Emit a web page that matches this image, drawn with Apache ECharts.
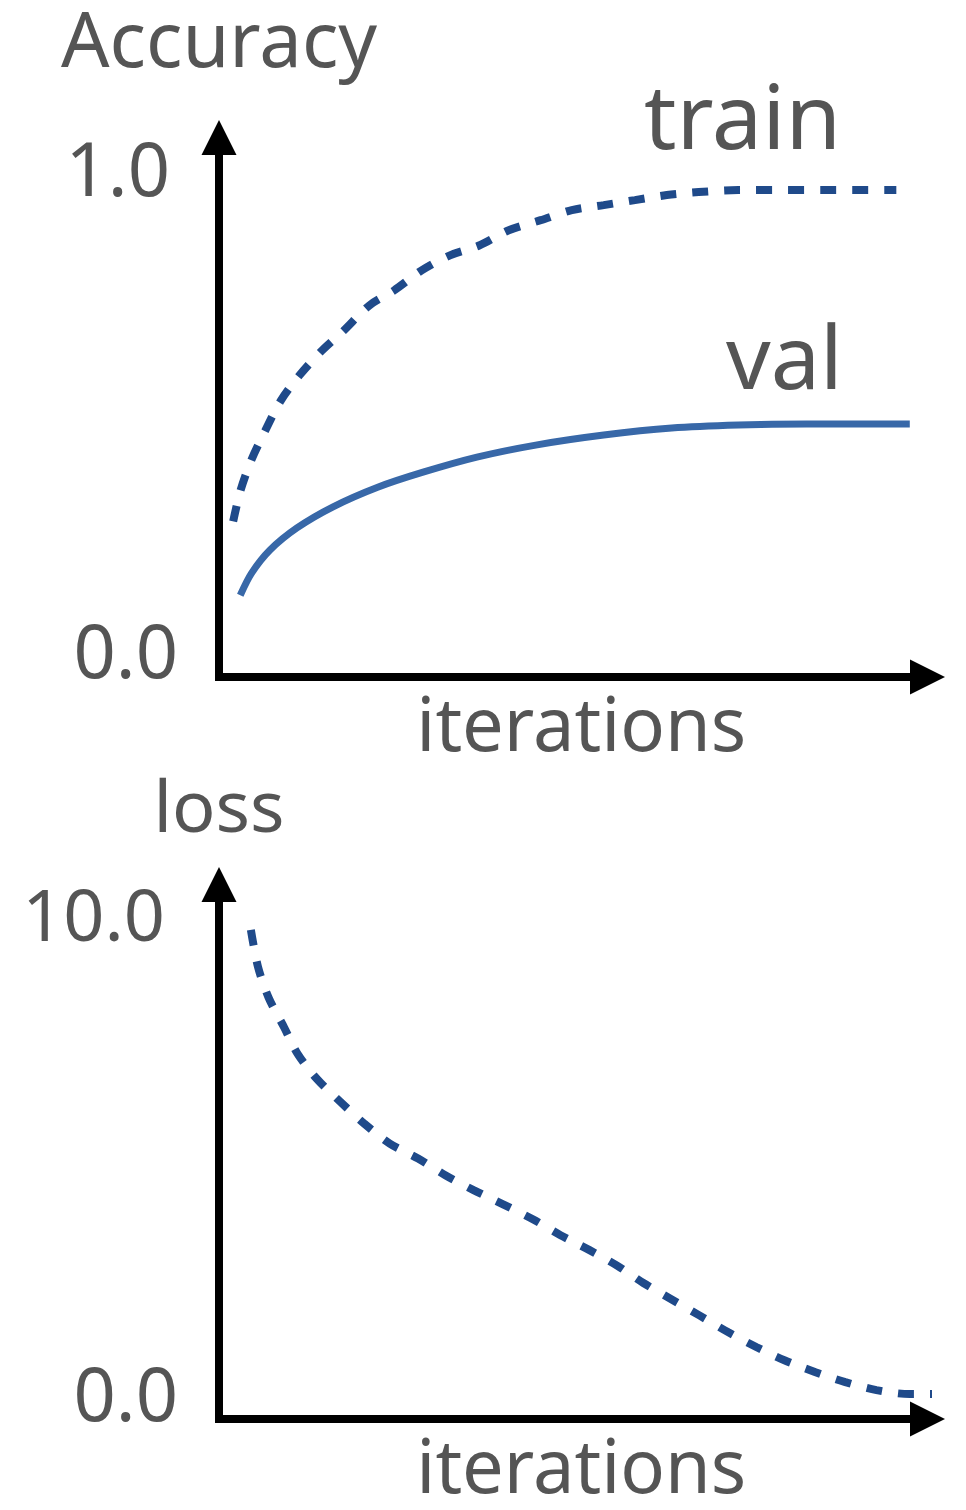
<!DOCTYPE html>
<html>
<head>
<meta charset="utf-8">
<script src="https://cdn.jsdelivr.net/npm/echarts@6/dist/echarts.min.js"></script>
<style>
html,body{margin:0;padding:0;background:#fff;}
#chart{width:966px;height:1510px;}
</style>
</head>
<body>
<div id="chart"></div>
<script>
// ---- data ----
const trainIter = [2.0, 3.0, 4.5, 6.5, 8.7, 11.3, 14.5, 17.6, 21.2, 24.7, 28.6, 32.6, 36.8, 40.9, 45.4, 49.8, 54.3, 58.7, 63.2, 67.7, 73.3, 95.6];
const trainAcc  = [0.31, 0.37, 0.43, 0.49, 0.55, 0.60, 0.65, 0.69, 0.74, 0.77, 0.81, 0.84, 0.86, 0.89, 0.91, 0.93, 0.94, 0.95, 0.96, 0.966, 0.97, 0.97];

const valIter = [3.0, 4.6, 7.2, 11.0, 16.1, 22.4, 28.8, 36.4, 44.7, 54.3, 63.9, 73.3, 82.9, 97.5];
const valAcc  = [0.163, 0.207, 0.253, 0.297, 0.339, 0.378, 0.408, 0.438, 0.462, 0.482, 0.496, 0.502, 0.504, 0.504];

const lossIter = [4.5, 5.5, 7.0, 9.2, 11.1, 13.8, 17.1, 20.5, 24.1, 28.1, 32.0, 36.0, 40.1, 44.3, 48.2, 52.3, 56.3, 59.9, 63.9, 67.8, 71.9, 75.9, 79.8, 84.2, 88.4, 92.8, 97.5, 101.4];
const lossVal  = [9.82, 9.08, 8.46, 7.86, 7.33, 6.83, 6.37, 5.93, 5.53, 5.23, 4.89, 4.59, 4.31, 4.01, 3.69, 3.39, 3.07, 2.73, 2.40, 2.08, 1.74, 1.44, 1.18, 0.94, 0.74, 0.58, 0.50, 0.50];

const accTickValues  = [0, 1];
const accTickLabels  = ['0.0', '1.0'];
const lossTickValues = [0, 10];
const lossTickLabels = ['0.0', '10.0'];

const seriesNames = ['train', 'val', 'train loss'];
const axisTitles = { acc: 'Accuracy', loss: 'loss', iter: 'iterations' };

// ---- helpers ----
const zip = (xs, ys) => xs.map((x, i) => [x, ys[i]]);
const FONT = 'Noto Sans';
const TXT = '#555555';
const DARK = '#1f4a8a';
const MID = '#3868a8';

const axisLineStyle = {
  show: true,
  symbol: ['none', 'triangle'],
  symbolSize: [35, 35],
  symbolOffset: [0, 0],
  lineStyle: { color: '#000', width: 8, cap: 'square' }
};

const chart = echarts.init(document.getElementById('chart'), null, { renderer: 'canvas' });

const iterName = {
  name: axisTitles.iter, nameLocation: 'middle', nameGap: 16,
  nameTextStyle: { fontFamily: FONT, fontSize: 74, color: TXT, verticalAlign: 'top', padding: [0, 0, 0, 16] }
};

chart.setOption({
  backgroundColor: '#ffffff',
  animation: false,
  grid: [
    { left: 219, right: 38.5, top: 137.5, bottom: 833 },
    { left: 219, right: 38.5, top: 884.5, bottom: 88 }
  ],
  xAxis: [
    Object.assign({
      gridIndex: 0, type: 'value', min: 0, max: 100,
      axisLine: axisLineStyle, axisTick: { show: false }, axisLabel: { show: false }, splitLine: { show: false }
    }, iterName),
    Object.assign({
      gridIndex: 1, type: 'value', min: 0, max: 100,
      axisLine: axisLineStyle, axisTick: { show: false }, axisLabel: { show: false }, splitLine: { show: false }
    }, iterName)
  ],
  yAxis: [
    {
      gridIndex: 0, type: 'value', min: 0, max: 1.0747,
      axisLine: axisLineStyle, axisTick: { show: false }, splitLine: { show: false },
      axisLabel: {
        customValues: accTickValues,
        margin: 41,
        formatter: v => {
          const i = accTickValues.indexOf(v);
          return v === 0 ? '{lo|' + accTickLabels[i] + '}' : '{hi|' + accTickLabels[i] + '}';
        },
        rich: {
          lo: { fontFamily: FONT, fontSize: 74, color: TXT, padding: [0, 0, 40, 0] },
          hi: { fontFamily: FONT, fontSize: 74, color: TXT, padding: [0, 8, 0, 0] }
        }
      },
      name: axisTitles.acc, nameLocation: 'end', nameGap: 54,
      nameTextStyle: { fontFamily: FONT, fontSize: 76, color: TXT, align: 'center' }
    },
    {
      gridIndex: 1, type: 'value', min: 0, max: 10.73,
      axisLine: axisLineStyle, axisTick: { show: false }, splitLine: { show: false },
      axisLabel: {
        customValues: lossTickValues,
        margin: 41,
        formatter: v => {
          const i = lossTickValues.indexOf(v);
          return v === 0 ? '{lo|' + lossTickLabels[i] + '}' : '{hi|' + lossTickLabels[i] + '}';
        },
        rich: {
          lo: { fontFamily: FONT, fontSize: 74, color: TXT, padding: [0, 0, 38, 0] },
          hi: { fontFamily: FONT, fontSize: 72, color: TXT, padding: [0, 13, 0, 0] }
        }
      },
      name: axisTitles.loss, nameLocation: 'end', nameGap: 37,
      nameTextStyle: { fontFamily: FONT, fontSize: 72, color: TXT, align: 'center' }
    }
  ],
  series: [
    {
      name: seriesNames[0], type: 'line', xAxisIndex: 0, yAxisIndex: 0,
      data: zip(trainIter, trainAcc), smooth: 0.3, showSymbol: false, clip: false,
      lineStyle: { color: DARK, width: 8, type: [16, 16], cap: 'butt' }
    },
    {
      name: seriesNames[1], type: 'line', xAxisIndex: 0, yAxisIndex: 0,
      data: zip(valIter, valAcc), smooth: 0.3, showSymbol: false, clip: false,
      lineStyle: { color: MID, width: 7 }
    },
    {
      name: seriesNames[2], type: 'line', xAxisIndex: 1, yAxisIndex: 1,
      data: zip(lossIter, lossVal), smooth: 0.3, showSymbol: false, clip: false,
      lineStyle: { color: DARK, width: 8, type: [16, 16], cap: 'butt' }
    }
  ],
  graphic: [
    { type: 'text', left: 644, top: 78, style: { text: seriesNames[0], fontFamily: FONT, fontSize: 90, fill: TXT } },
    { type: 'text', left: 726, top: 320, style: { text: seriesNames[1], fontFamily: FONT, fontSize: 88, fill: TXT } }
  ]
});
</script>
</body>
</html>
